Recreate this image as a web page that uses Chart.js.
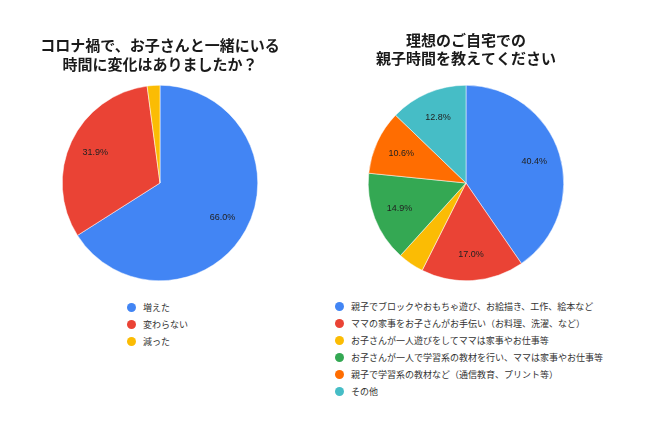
<!DOCTYPE html>
<html>
<head>
<meta charset="utf-8">
<script src="https://cdn.jsdelivr.net/npm/chart.js@4.4.1/dist/chart.umd.min.js"></script>
<style>
  body { margin: 0; background: #fff; font-family: "Noto Sans CJK JP", sans-serif; }
  #page { position: relative; width: 650px; height: 434px; overflow: hidden; }
  .box { position: absolute; }
  .legend { position: absolute; font-size: 9px; color: #333; }
  .legend div { position: relative; height: 17px; line-height: 17px; padding-left: 20px; white-space: nowrap; }
  .legend span { position: absolute; left: 4px; top: 4px; width: 9px; height: 9px; border-radius: 50%; }
</style>
</head>
<body>
<div id="page">
  <div class="box" style="left:0;top:0;width:325px;height:290px"><canvas id="left"></canvas></div>
  <div class="box" style="left:325px;top:0;width:325px;height:290px"><canvas id="right"></canvas></div>
  <div class="legend" id="legendLeft" style="left:123px;top:299px"></div>
  <div class="legend" id="legendRight" style="left:331px;top:298px"></div>
</div>
<script>
const colors = ['#4285F4', '#EA4335', '#FBBC04', '#34A853', '#FF6D01', '#46BDC6'];

const leftTitle = ['コロナ禍で、お子さんと一緒にいる', '時間に変化はありましたか？'];
const leftLabels = ['増えた', '変わらない', '減った'];
const leftValues = [66.0, 31.9, 2.1];

const rightTitle = ['理想のご自宅での', '親子時間を教えてください'];
const rightLabels = [
  '親子でブロックやおもちゃ遊び、お絵描き、工作、絵本など',
  'ママの家事をお子さんがお手伝い（お料理、洗濯、など）',
  'お子さんが一人遊びをしてママは家事やお仕事等',
  'お子さんが一人で学習系の教材を行い、ママは家事やお仕事等',
  '親子で学習系の教材など（通信教育、プリント等）',
  'その他'
];
const rightValues = [40.4, 17.0, 4.3, 14.9, 10.6, 12.8];

// draws the percentage inside each slice (small slices skipped)
const sliceLabels = {
  id: 'sliceLabels',
  afterDatasetsDraw(chart) {
    const ctx = chart.ctx;
    const ds = chart.data.datasets[0];
    const total = ds.data.reduce((a, b) => a + b, 0);
    chart.getDatasetMeta(0).data.forEach((arc, i) => {
      const pct = ds.data[i] / total * 100;
      if (pct < 5) return;
      const mid = (arc.startAngle + arc.endAngle) / 2;
      const r = arc.outerRadius * 0.73;
      ctx.save();
      ctx.font = '9px Arial, "Liberation Sans", sans-serif';
      ctx.fillStyle = '#222';
      ctx.textAlign = 'center';
      ctx.textBaseline = 'middle';
      ctx.fillText(pct.toFixed(1) + '%', arc.x + Math.cos(mid) * r, arc.y + Math.sin(mid) * r);
      ctx.restore();
    });
  }
};

function makePie(id, title, labels, values, pad, titlePad) {
  return new Chart(document.getElementById(id), {
    type: 'pie',
    data: {
      labels: labels,
      datasets: [{
        data: values,
        backgroundColor: colors.slice(0, values.length),
        borderColor: '#fff',
        borderWidth: 0.5
      }]
    },
    options: {
      responsive: true,
      maintainAspectRatio: false,
      animation: false,
      layout: { padding: pad },
      plugins: {
        legend: { display: false },
        tooltip: { enabled: false },
        title: {
          display: true,
          text: title,
          color: '#1a1a1a',
          font: { family: '"Noto Sans CJK JP", sans-serif', size: 15, weight: 'bold', lineHeight: 1.25 },
          padding: titlePad
        }
      }
    },
    plugins: [sliceLabels]
  });
}

makePie('left', leftTitle, leftLabels, leftValues, { left: 0, right: 5, top: 0, bottom: 9 }, { top: 36, bottom: 11.5 });
makePie('right', rightTitle, rightLabels, rightValues, { left: 0, right: 43, top: 0, bottom: 9 }, { top: 30.5, bottom: 17 });

function buildLegend(id, labels) {
  const el = document.getElementById(id);
  labels.forEach((t, i) => {
    const row = document.createElement('div');
    const dot = document.createElement('span');
    dot.style.background = colors[i];
    row.appendChild(dot);
    row.appendChild(document.createTextNode(t));
    el.appendChild(row);
  });
}
buildLegend('legendLeft', leftLabels);
buildLegend('legendRight', rightLabels);
</script>
</body>
</html>
